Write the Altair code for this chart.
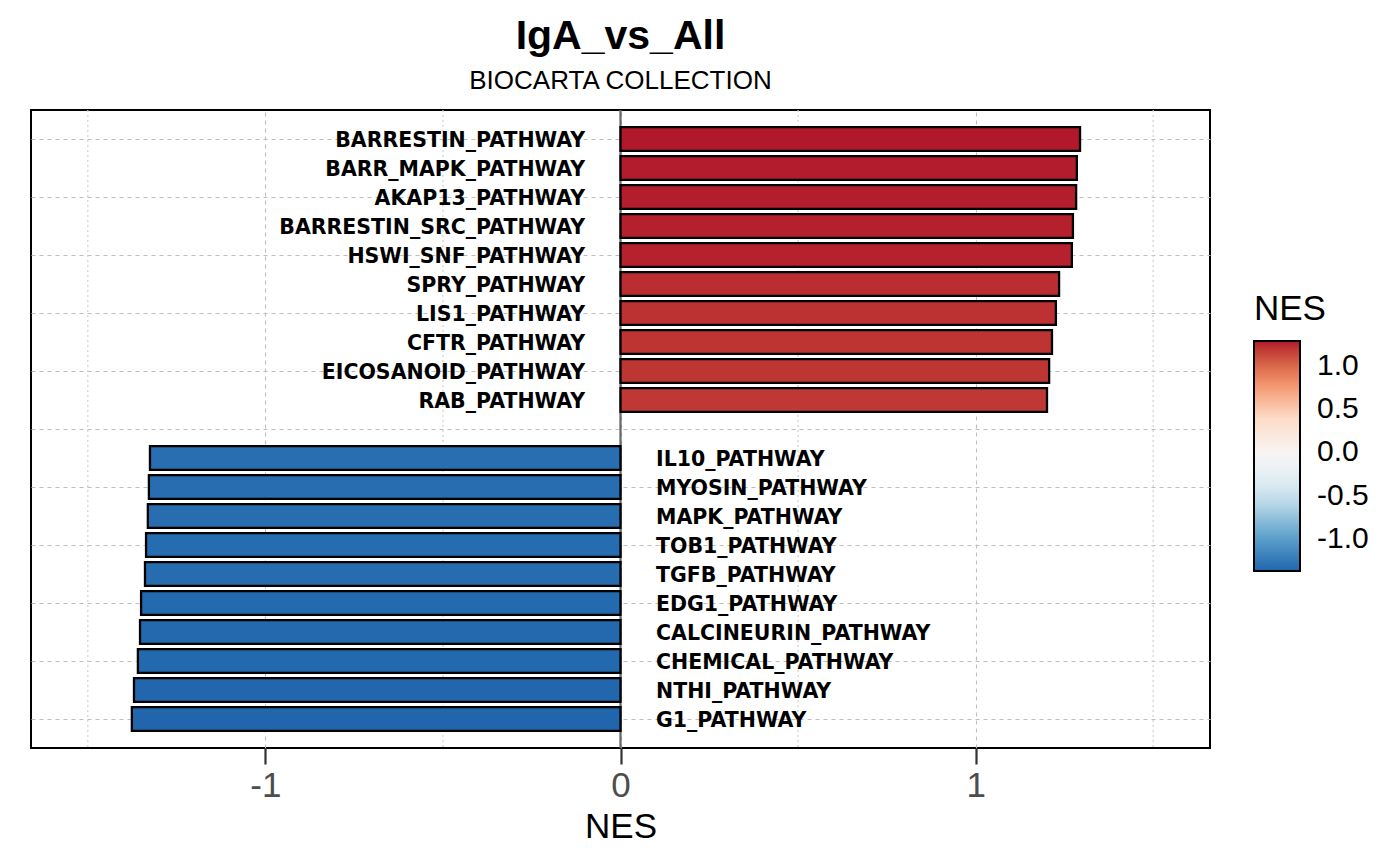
import altair as alt
import pandas as pd

pathways_pos = ["BARRESTIN_PATHWAY", "BARR_MAPK_PATHWAY", "AKAP13_PATHWAY", "BARRESTIN_SRC_PATHWAY",
                "HSWI_SNF_PATHWAY", "SPRY_PATHWAY", "LIS1_PATHWAY", "CFTR_PATHWAY",
                "EICOSANOID_PATHWAY", "RAB_PATHWAY"]
nes_pos = [1.294, 1.285, 1.283, 1.274, 1.271, 1.235, 1.226, 1.215, 1.207, 1.201]

pathways_neg = ["IL10_PATHWAY", "MYOSIN_PATHWAY", "MAPK_PATHWAY", "TOB1_PATHWAY", "TGFB_PATHWAY",
                "EDG1_PATHWAY", "CALCINEURIN_PATHWAY", "CHEMICAL_PATHWAY", "NTHI_PATHWAY", "G1_PATHWAY"]
nes_neg = [-1.325, -1.328, -1.331, -1.336, -1.339, -1.350, -1.353, -1.359, -1.370, -1.376]

x_major = [-1, 0, 1]
x_minor = [-1.5, -0.5, 0.5, 1.5]
legend_ticks = [-1.0, -0.5, 0.0, 0.5, 1.0]
rdbu7 = ["#2166AC", "#67A9CF", "#D1E5F0", "#F7F7F7", "#FDDBC7", "#EF8A62", "#B2182B"]

rows = []
for i, (p, v) in enumerate(zip(pathways_pos, nes_pos)):
    rows.append({"pathway": p, "NES": v, "pos": i + 1, "lab_x": -0.1})
for i, (p, v) in enumerate(zip(pathways_neg, nes_neg)):
    rows.append({"pathway": p, "NES": v, "pos": len(pathways_pos) + 2 + i, "lab_x": 0.1})
df = pd.DataFrame(rows)
n_slots = len(pathways_pos) + len(pathways_neg) + 1

vmin, vmax = df["NES"].min(), df["NES"].max()
cdomain = [vmin + k * (vmax - vmin) / (len(rdbu7) - 1) for k in range(len(rdbu7))]

xscale = alt.Scale(domain=[-1.66, 1.66], nice=False, zero=False)
yscale = alt.Scale(domain=[0, n_slots + 1], reverse=True, nice=False, zero=False)

neg_expr = "datum.value < 0 ? '-' + format(-datum.value, '%s') : format(datum.value, '%s')"

minor = alt.Chart(pd.DataFrame({"v": x_minor})).mark_rule(
    color="#D0D0D0", strokeWidth=1.2, strokeDash=[2, 3]
).encode(x=alt.X("v:Q", scale=xscale))

zero = alt.Chart(pd.DataFrame({"v": [0]})).mark_rule(
    color="#666666", strokeWidth=2.2
).encode(x=alt.X("v:Q", scale=xscale))

base = alt.Chart(df).transform_calculate(
    y1="datum.pos - 0.41", y2="datum.pos + 0.41", zero="0"
)

bars = base.mark_bar(stroke="black", strokeWidth=2.3).encode(
    x=alt.X("NES:Q", scale=xscale,
            axis=alt.Axis(values=x_major, grid=True, gridColor="#BDBDBD", gridDash=[4, 4],
                          gridWidth=1.1, ticks=True, tickSize=16, tickWidth=2.2, tickColor="#333333",
                          domain=False, labelFontSize=35, labelColor="#4D4D4D",
                          labelFont="Liberation Sans", labelPadding=4,
                          labelExpr=neg_expr % ("d", "d"),
                          title="NES", titleFontSize=35, titleFont="Liberation Sans",
                          titleFontWeight="normal", titleColor="black", titlePadding=6)),
    x2=alt.X2("zero:Q"),
    y=alt.Y("y1:Q", scale=yscale,
            axis=alt.Axis(values=list(range(1, n_slots + 1)), grid=True, gridColor="#BDBDBD",
                          gridDash=[4, 4], gridWidth=1.1, ticks=False, labels=False,
                          domain=False, title=None)),
    y2=alt.Y2("y2:Q"),
    color=alt.Color("NES:Q",
                    scale=alt.Scale(domain=cdomain, range=rdbu7),
                    legend=alt.Legend(title="NES", orient="none", legendX=1223, legendY=182,
                                      values=legend_ticks, gradientLength=230,
                                      gradientThickness=46, gradientStrokeColor="black",
                                      gradientStrokeWidth=2, labelFontSize=30,
                                      labelFont="Liberation Sans", labelColor="black",
                                      labelOffset=17, titleFontSize=35,
                                      titleFont="Liberation Sans", titleFontWeight="normal",
                                      titleColor="black", titlePadding=14,
                                      labelExpr=neg_expr % (".1f", ".1f"))),
)

text_style = dict(font="DejaVu Sans", fontWeight="bold", fontSize=20.5, color="black",
                  baseline="middle", dy=2)

labels_pos = base.transform_filter("datum.NES > 0").mark_text(align="right", **text_style).encode(
    x=alt.X("lab_x:Q", scale=xscale), y=alt.Y("pos:Q", scale=yscale), text="pathway:N")
labels_neg = base.transform_filter("datum.NES < 0").mark_text(align="left", **text_style).encode(
    x=alt.X("lab_x:Q", scale=xscale), y=alt.Y("pos:Q", scale=yscale), text="pathway:N")

chart = alt.layer(minor, zero, bars, labels_pos, labels_neg).properties(
    width=1179, height=638,
    background="white",
    autosize=alt.AutoSizeParams(type="none"),
    padding={"left": 23, "top": 102, "right": 170, "bottom": 100},
    title=alt.TitleParams(text="IgA_vs_All", subtitle="BIOCARTA COLLECTION",
                          fontSize=41, font="Liberation Sans", fontWeight="bold", color="black",
                          subtitleFontSize=26, subtitleFont="Liberation Sans", subtitleColor="black",
                          subtitlePadding=10, anchor="middle", offset=14),
).configure_view(stroke="black", strokeWidth=2)

chart.save("out.html", embed_options={"renderer": "svg", "actions": False})
